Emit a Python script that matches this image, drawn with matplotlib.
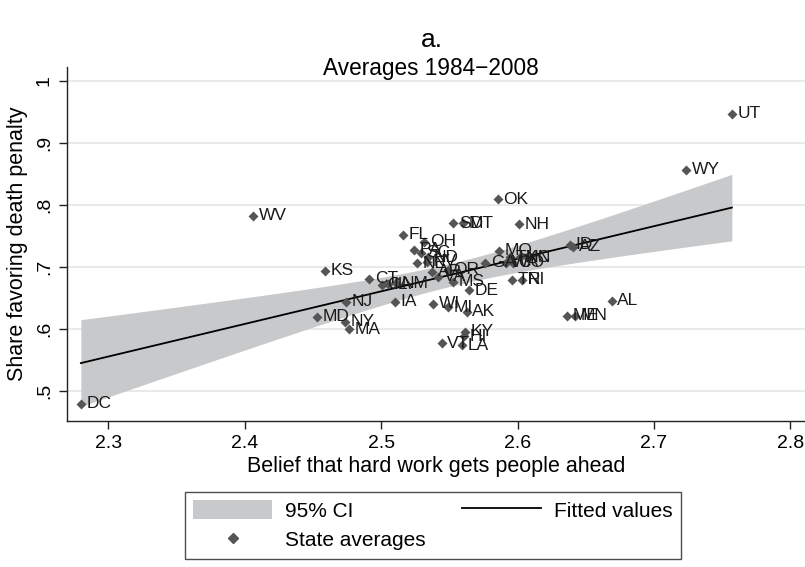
import numpy as np
import matplotlib.pyplot as plt
from matplotlib.patches import Patch
from matplotlib.lines import Line2D

plt.rcParams["font.family"] = ["Liberation Sans", "DejaVu Sans"]

# ======================================================
# DATA: state averages 1984-2008
# ======================================================

states = [
    "UT", "WY", "OK", "WV", "NH", "SD", "MT", "FL", "OH", "PA",
    "SC", "ND", "NE", "NV", "AR", "OR", "VA", "MS", "CA", "IL",
    "NM", "CT", "KS", "NJ", "IA", "MD", "NY", "MA", "DC", "WI",
    "MI", "AK", "KY", "HI", "VT", "LA", "AL", "ME", "MN", "ID",
    "AZ", "MO", "GA", "WA", "CO", "TX", "NC", "IN", "TN", "RI",
    "DE",
]

hard_work = [
    2.7572, 2.7235, 2.5857, 2.4061, 2.6013, 2.5529, 2.5603, 2.5163, 2.5315, 2.5241,
    2.5293, 2.5344, 2.5261, 2.5334, 2.5373, 2.5490, 2.5419, 2.5529, 2.5004, 2.5051,
    2.5110, 2.4913, 2.4589, 2.4743, 2.5102, 2.4532, 2.4735, 2.4767, 2.2798, 2.5383,
    2.5493, 2.5628, 2.5615, 2.5608, 2.5444, 2.5591, 2.6691, 2.6361, 2.6422, 2.6385,
    2.6409, 2.5867, 2.5762, 2.5916, 2.5967, 2.5945, 2.6018, 2.6077, 2.5957, 2.6031,
    2.5642,
]

death_penalty = [
    0.9463, 0.8561, 0.8089, 0.7820, 0.7686, 0.7702, 0.7702, 0.7514, 0.7401, 0.7272,
    0.7224, 0.7159, 0.7058, 0.7083, 0.6918, 0.6950, 0.6842, 0.6761, 0.6708, 0.6724,
    0.6740, 0.6805, 0.6939, 0.6439, 0.6439, 0.6197, 0.6117, 0.5994, 0.4791, 0.6402,
    0.6349, 0.6278, 0.5956, 0.5886, 0.5769, 0.5741, 0.6455, 0.6209, 0.6209, 0.7353,
    0.7325, 0.7256, 0.7067, 0.7063, 0.7063, 0.7159, 0.7159, 0.7143, 0.6789, 0.6789,
    0.6627,
]

x_ticks = [2.3, 2.4, 2.5, 2.6, 2.7, 2.8]
y_ticks = [0.5, 0.6, 0.7, 0.8, 0.9, 1.0]
y_tick_labels = [".5", ".6", ".7", ".8", ".9", "1"]

# ======================================================
# LINEAR FIT WITH 95% CI OF THE MEAN
# ======================================================

x = np.asarray(hard_work)
y = np.asarray(death_penalty)
n = len(x)

slope, intercept = np.polyfit(x, y, 1)
resid = y - (intercept + slope * x)
s = np.sqrt(np.sum(resid ** 2) / (n - 2))
t_crit = 2.0096  # t(0.975, df=49)

xs = np.linspace(x.min(), x.max(), 200)
fit = intercept + slope * xs
se = s * np.sqrt(1.0 / n + (xs - x.mean()) ** 2 / np.sum((x - x.mean()) ** 2))
lo = fit - t_crit * se
hi = fit + t_crit * se

# ======================================================
# PLOT
# ======================================================

fig = plt.figure(figsize=(8.05, 5.67), dpi=100)
ax = fig.add_axes([0.083, 0.2575, 0.917, 0.625])

band_color = "#c8c9cb"
marker_color = "#555555"

ax.fill_between(xs, lo, hi, color=band_color, lw=0, zorder=1)
ax.plot(xs, fit, color="black", lw=1.3, zorder=3)
ax.scatter(x, y, marker="D", s=26, color=marker_color, lw=0, zorder=4)

for name, xi, yi in zip(states, x, y):
    ax.annotate(name, (xi, yi), xytext=(4, 0), textcoords="offset points",
                va="center", ha="left", fontsize=12.5, color="#1a1a1a", zorder=5)

ax.set_xlim(2.2695, 2.8108)
ax.set_ylim(0.4517, 1.0226)

ax.set_xticks(x_ticks)
ax.set_xticklabels([f"{t:.1f}" for t in x_ticks])
ax.set_yticks(y_ticks)
ax.set_yticklabels(y_tick_labels, rotation=90, va="center")
ax.tick_params(axis="both", labelsize=14, length=6, width=1, color="#222222",
               direction="out", pad=4)

ax.grid(axis="y", color="#e6e6e6", lw=1.2, zorder=0)
ax.set_axisbelow(True)

for side in ["top", "right"]:
    ax.spines[side].set_visible(False)
for side in ["left", "bottom"]:
    ax.spines[side].set_color("#222222")
    ax.spines[side].set_linewidth(1)

ax.set_xlabel("Belief that hard work gets people ahead", fontsize=15.5, labelpad=3)
ax.set_ylabel("Share favoring death penalty", fontsize=15.5, labelpad=6)

fig.text(0.536, 0.93, "a.", ha="center", va="center", fontsize=19)
fig.text(0.5355, 0.88, "Averages 1984\u22122008", ha="center", va="center", fontsize=16.3)

handles = [
    Patch(facecolor=band_color, edgecolor="none"),
    Line2D([], [], marker="D", ls="none", color=marker_color, markersize=5),
    Line2D([], [], color="black", lw=1.3),
]
labels = ["95% CI", "State averages", "Fitted values"]
leg = fig.legend(handles, labels, ncol=2, loc="center",
                 bbox_to_anchor=(0.5375, 0.0735), fontsize=15,
                 frameon=True, fancybox=False, edgecolor="#222222",
                 handlelength=3.8, handleheight=1.0, handletextpad=0.6,
                 columnspacing=1.75, labelspacing=0.45, borderpad=0.4,
                 borderaxespad=0)
leg.get_frame().set_linewidth(1)

fig.savefig("out.png", dpi=100)
